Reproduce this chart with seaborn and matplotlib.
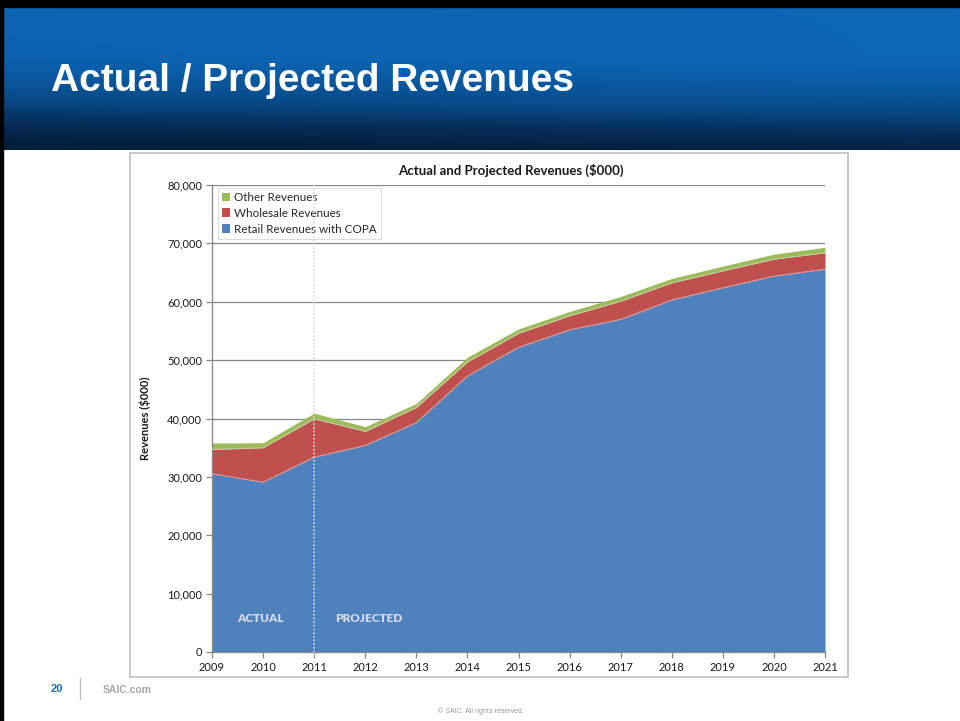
import numpy as np
import pandas as pd
import matplotlib
matplotlib.use("Agg")
import matplotlib.pyplot as plt
import seaborn as sns
from matplotlib.patches import Rectangle, Patch
from matplotlib.colors import LinearSegmentedColormap

# ---- data ($000) ----
years = [2009, 2010, 2011, 2012, 2013, 2014, 2015, 2016, 2017, 2018, 2019, 2020, 2021]
retail = [30550, 29100, 33400, 35400, 39300, 47300, 52200, 55200, 57000, 60300, 62400, 64400, 65600]
wholesale = [4150, 5900, 6550, 2400, 2600, 2400, 2400, 2400, 3100, 2950, 2900, 2900, 2800]
other = [1100, 850, 970, 800, 680, 800, 740, 740, 800, 740, 800, 860, 920]
series_names = ["Retail Revenues with COPA", "Wholesale Revenues", "Other Revenues"]
series_colors = ["#4F81BD", "#C0504D", "#9BBB59"]
y_ticks = list(range(0, 80001, 10000))

sns.set_theme(style="white")
plt.rcParams["font.family"] = ["Lato", "DejaVu Sans"]

W, H = 960, 721
fig = plt.figure(figsize=(W / 100, H / 100), dpi=100)

# ---- slide background in pixel coordinates ----
bg = fig.add_axes([0, 0, 1, 1])
bg.set_xlim(0, W)
bg.set_ylim(H, 0)
bg.axis("off")

# header gradient band: medium blue on top, deep navy at the bottom,
# a touch brighter towards the right
ny, nx = 146, 240
v = np.linspace(0, 1, ny)[:, None]
h = np.linspace(0, 1, nx)[None, :]
shade = 0.25 + 0.7 * np.clip((v - 0.35) / 0.65, 0, 1) ** 1.3 + 0.1 * (1 - h) * (0.3 + v)
hdr_cmap = LinearSegmentedColormap.from_list(
    "hdr", ["#0e6cbc", "#0a5aa4", "#084a88", "#062e5a", "#041f3e"])
bg.imshow(shade, cmap=hdr_cmap, vmin=0.2, vmax=1.0, extent=[3, W, 150, 6],
          aspect="auto", zorder=1, interpolation="bilinear")
# black frame edges
bg.add_patch(Rectangle((0, 0), W, 6.5, color="black", zorder=3))
bg.add_patch(Rectangle((0, 0), 3, H, color="black", zorder=3))

bg.text(51, 81, "Actual / Projected Revenues", color="white", fontsize=28,
        fontweight="bold", va="center", ha="left",
        family=["Liberation Sans Narrow", "Liberation Sans", "DejaVu Sans"], zorder=4)

# chart frame
bg.add_patch(Rectangle((130, 153), 718, 524, facecolor="white",
                       edgecolor="#bfbfbf", linewidth=1.2, zorder=2))

# footer
bg.text(57, 689, "20", color="#1f6fb5", fontsize=8, fontweight="bold",
        ha="center", va="center", family=["Liberation Sans", "DejaVu Sans"])
bg.plot([80, 80], [678, 699], color="#bfbfbf", lw=1)
bg.text(103, 690, "SAIC.com", color="#a6a6a6", fontsize=7.5, fontweight="bold",
        ha="left", va="center", family=["Liberation Sans", "DejaVu Sans"])
bg.text(481, 711, "\u00a9 SAIC. All rights reserved.", color="#9a9a9a", fontsize=5,
        ha="center", va="center", family=["Liberation Sans", "DejaVu Sans"])

# ---- chart axes ----
x0, x1, y0, y1 = 212, 825, 185, 652
ax = fig.add_axes([x0 / W, 1 - y1 / H, (x1 - x0) / W, (y1 - y0) / H])
ax.set_facecolor("none")

df = pd.DataFrame({"year": years, "retail": retail, "wholesale": wholesale, "other": other})
df["top_retail"] = df["retail"]
df["top_wholesale"] = df["top_retail"] + df["wholesale"]
df["top_other"] = df["top_wholesale"] + df["other"]

tops = ["top_retail", "top_wholesale", "top_other"]
lower = np.zeros(len(df))
for col, name, c in zip(tops, series_names, series_colors):
    ax.fill_between(df["year"], lower, df[col], color=c, linewidth=0, zorder=2)
    lower = df[col].values
# faint seams between the stacked layers
for col in tops[:2]:
    sns.lineplot(data=df, x="year", y=col, ax=ax, color="#e6d6d6", lw=0.6,
                 linestyle=(0, (1.5, 1)), zorder=3, legend=False)

ax.set_xlim(2009, 2021)
ax.set_ylim(0, 80000)
ax.set_yticks(y_ticks)
ax.set_yticklabels([f"{t:,}" for t in y_ticks])
ax.set_xticks(years)
ax.set_xticklabels([str(y) for y in years])
for t in y_ticks[1:]:
    ax.axhline(t, color="#868686", lw=0.9, zorder=1)

for s in ["top", "right"]:
    ax.spines[s].set_visible(False)
for s in ["left", "bottom"]:
    ax.spines[s].set_color("#868686")
    ax.spines[s].set_linewidth(0.9)
ax.spines["bottom"].set_zorder(4)
ax.tick_params(axis="both", which="major", direction="out", length=4, width=0.9,
               color="#868686", labelsize=8, labelcolor="#1a1a1a", pad=3,
               bottom=True, left=True)
ax.set_xlabel("")
ax.set_ylabel("Revenues ($000)", fontsize=8, fontweight="bold", color="#1a1a1a", labelpad=12)
ax.set_title("Actual and Projected Revenues ($000)", fontsize=9.5, fontweight="bold",
             color="#1a1a1a", pad=7, x=0.488)

# actual / projected divider
ax.plot([2011, 2011], [-2600, 80000], color="#d9d9d9", lw=1.1, linestyle=(0, (1.2, 1.2)),
        zorder=5, clip_on=False)
ax.text(2009.95, 5800, "ACTUAL", color="#d3dbe8", fontsize=8.5, fontweight="heavy",
        ha="center", va="center", zorder=5)
ax.text(2012.07, 5800, "PROJECTED", color="#d3dbe8", fontsize=8.5, fontweight="heavy",
        ha="center", va="center", zorder=5)

handles = [Patch(facecolor=c, edgecolor="none", label=n)
           for n, c in zip(series_names[::-1], series_colors[::-1])]
leg = ax.legend(handles=handles, loc="upper left", bbox_to_anchor=(0.009, 0.994),
                fontsize=8.4, frameon=True, fancybox=False, handlelength=0.75,
                handleheight=0.75, handletextpad=0.3, labelspacing=0.42,
                borderpad=0.35, borderaxespad=0)
leg.get_frame().set_edgecolor("#d9d9d9")
leg.get_frame().set_linewidth(0.8)
leg.get_frame().set_alpha(0.85)
leg.set_zorder(4)

fig.savefig("out.png", dpi=100)
